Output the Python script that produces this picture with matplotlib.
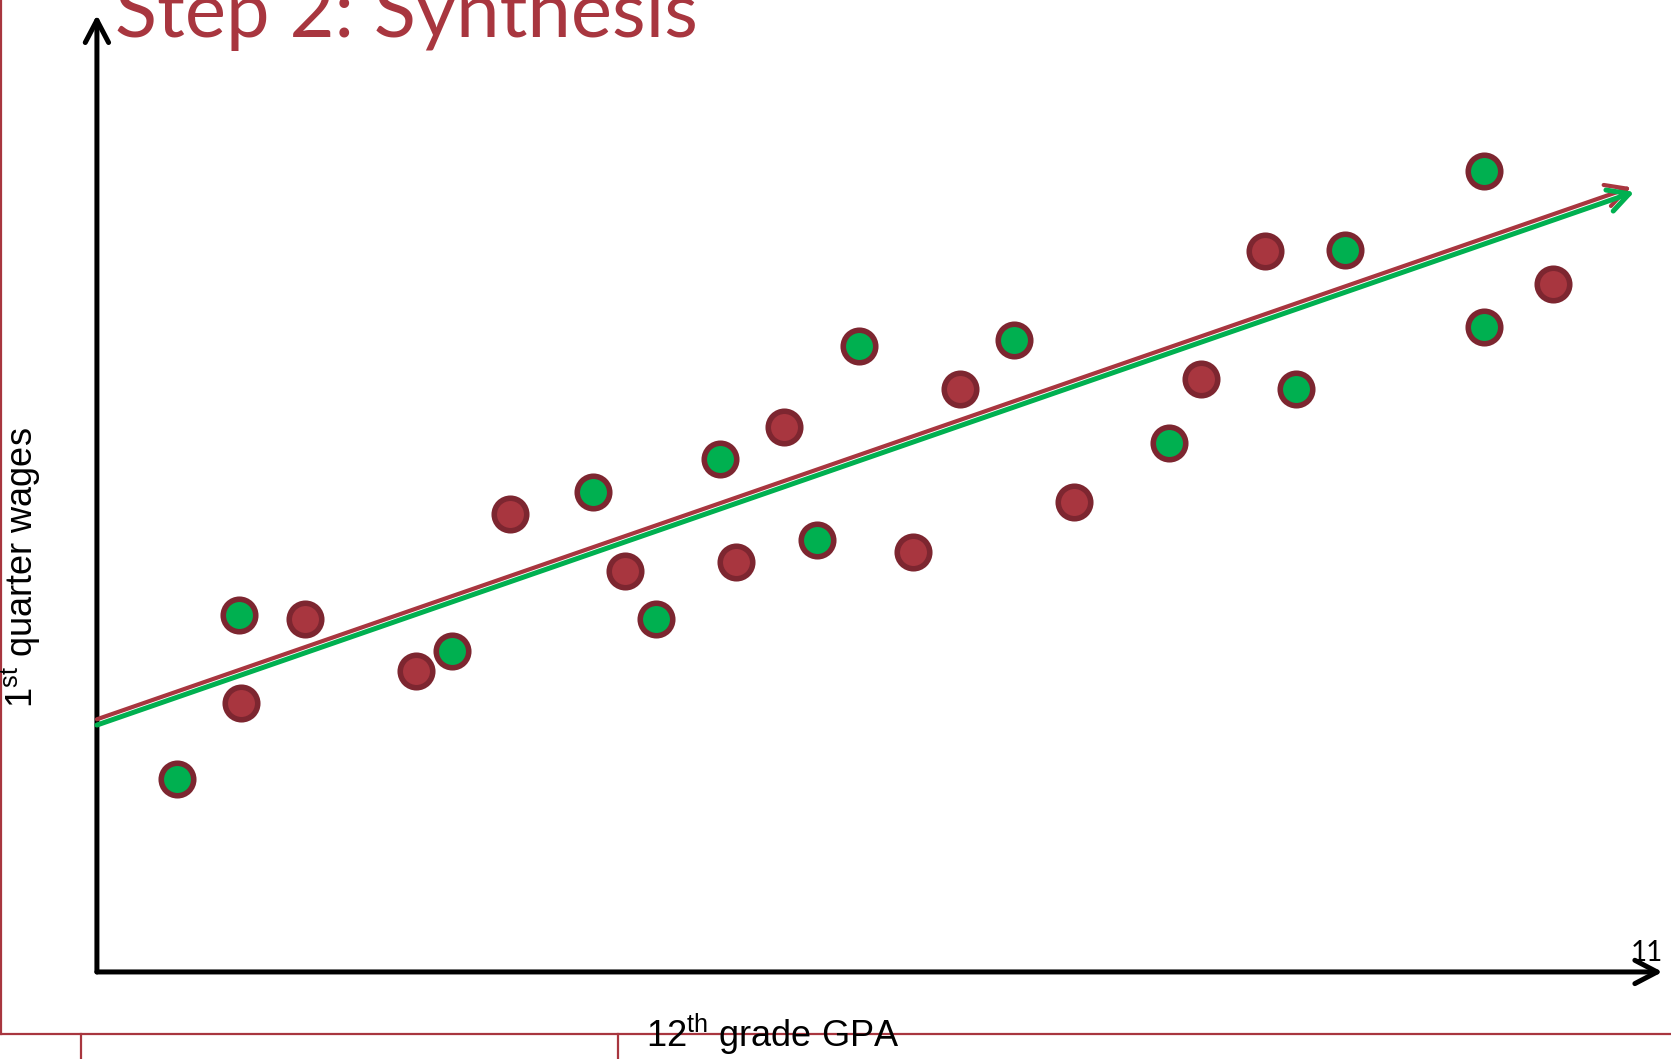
import matplotlib.pyplot as plt
from matplotlib.lines import Line2D

# Students: 12th grade GPA vs. 1st quarter wages (arbitrary 0-100 units)
green_gpa = [5.1, 9.1, 22.7, 31.7, 35.7, 39.8, 46.0, 48.7, 58.6, 68.5, 76.6, 79.7, 88.6, 88.6]
green_wages = [20.2, 37.3, 33.5, 50.2, 36.9, 53.6, 45.1, 65.4, 66.0, 55.3, 60.9, 75.4, 83.7, 67.4]

red_gpa = [9.2, 13.3, 20.4, 26.4, 33.7, 40.8, 43.9, 52.1, 55.1, 62.4, 70.5, 74.6, 93.0]
red_wages = [28.1, 36.9, 31.4, 47.8, 41.9, 42.8, 56.9, 43.9, 60.9, 49.1, 62.0, 75.3, 71.9]

# trend lines: (start, end) for each group
red_trend = [(0.0, 26.4), (98.0, 82.0)]
green_trend = [(0.0, 25.8), (98.2, 81.5)]

title = "Step 2: Synthesis"
x_label = "12$^{\\mathrm{th}}$ grade GPA"
y_label = "1$^{\\mathrm{st}}$ quarter wages"
slide_number = "11"

RED = "#A8363F"
EDGE = "#7D2630"
GREEN = "#00B050"

plt.rcParams["mathtext.fontset"] = "custom"
plt.rcParams["mathtext.rm"] = "Liberation Sans"

fig = plt.figure(figsize=(16.71, 10.59), dpi=100)
ax = fig.add_axes([0.0580, 0.0822, 0.9369, 0.9037])
ax.set_xlim(0, 100)
ax.set_ylim(0, 100)
ax.axis("off")

# axes drawn as arrows
axis_arrow = dict(arrowstyle="->,head_length=0.8,head_width=0.42", lw=3.6, color="black",
                  shrinkA=0, shrinkB=0, mutation_scale=20)
ax.annotate("", xy=(100, 0), xytext=(0, 0), arrowprops=axis_arrow, annotation_clip=False)
ax.annotate("", xy=(0, 100), xytext=(0, 0), arrowprops=axis_arrow, annotation_clip=False)

for trend, color, lw in [(red_trend, RED, 3.0), (green_trend, GREEN, 3.6)]:
    (x0, y0), (x1, y1) = trend
    ax.annotate("", xy=(x1, y1), xytext=(x0, y0),
                arrowprops=dict(arrowstyle="->,head_length=0.75,head_width=0.4", lw=lw,
                                color=color, shrinkA=0, shrinkB=0, mutation_scale=20),
                annotation_clip=False)

ax.plot(red_gpa, red_wages, "o", ms=23.4, mfc=RED, mec=EDGE, mew=4, zorder=5, clip_on=False)
ax.plot(green_gpa, green_wages, "o", ms=23.4, mfc=GREEN, mec=EDGE, mew=4, zorder=5, clip_on=False)

fig.text(115 / 1671, 1 - 37 / 1059, title, color=RED, fontsize=56, family="Lato",
         ha="left", va="baseline")
fig.text(21 / 1671, 1 - 568 / 1059, y_label, rotation=90, fontsize=26, family="Liberation Sans",
         ha="center", va="center")
fig.text(773 / 1671, 1 - 1047 / 1059, x_label, fontsize=26, family="Liberation Sans",
         ha="center", va="baseline")
fig.text(1663 / 1671, 1 - 961 / 1059, slide_number, fontsize=20, family="Lato",
         ha="right", va="baseline")

# slide frame
frame = dict(color=RED, lw=1.6, transform=fig.transFigure)
fig.add_artist(Line2D([0.0008, 0.0008], [1, 1 - 1034 / 1059], **frame))
fig.add_artist(Line2D([0, 1], [1 - 1034 / 1059] * 2, **frame))
fig.add_artist(Line2D([81 / 1671] * 2, [0, 1 - 1034 / 1059], **frame))
fig.add_artist(Line2D([618 / 1671] * 2, [0, 1 - 1034 / 1059], **frame))

fig.savefig("out.png", dpi=100)
